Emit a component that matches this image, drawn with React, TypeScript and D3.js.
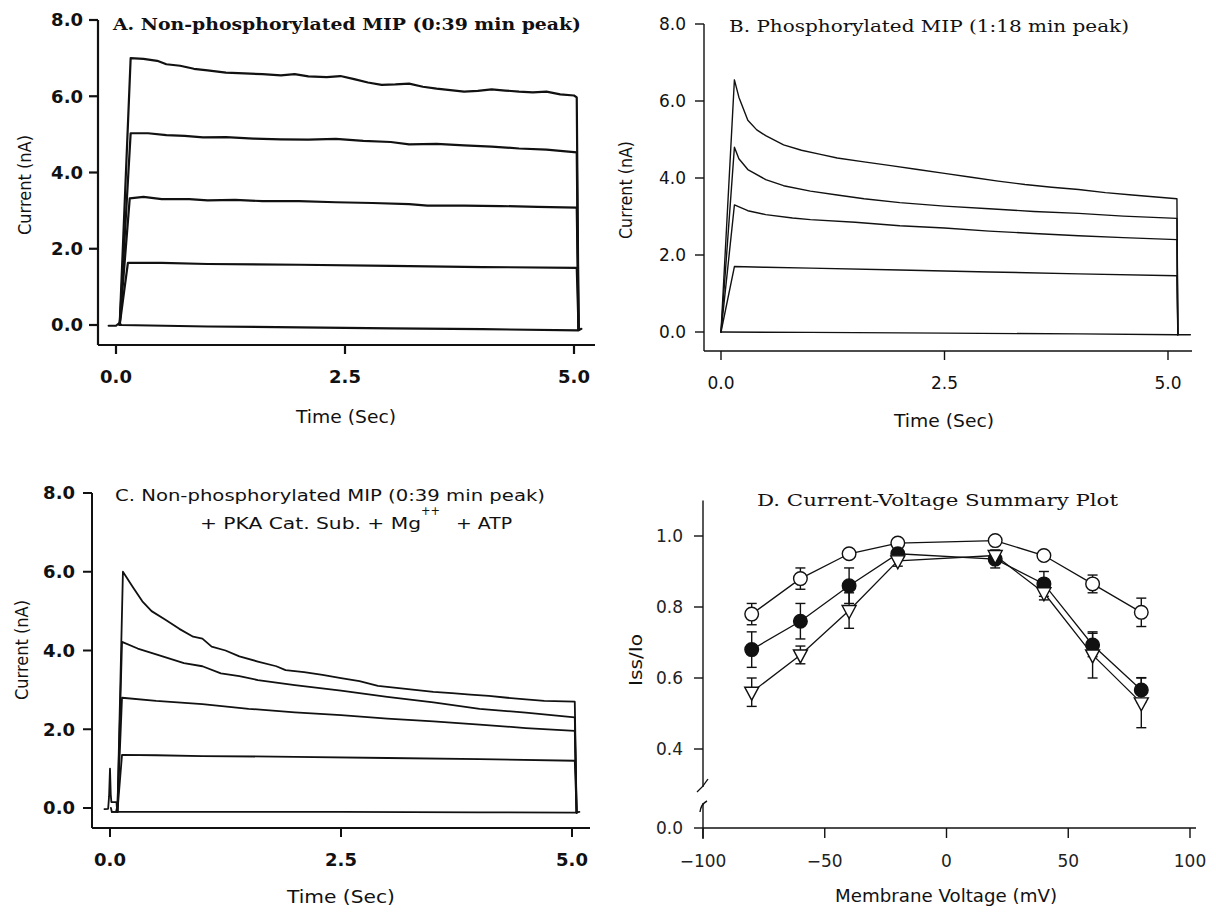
import React from 'react';
import * as d3 from 'd3';

type P = [number, number];

// ---------- Panel A data (Time s, Current nA) ----------
const timeTicks = [0, 2.5, 5.0];
const currentTicks = [0, 2, 4, 6, 8];

const aBaseline: P[] = [[-0.08, -0.02], [0.0, -0.02], [0.03, 0.04], [0.06, 0.0], [1.0, -0.04], [2.0, -0.06], [3.0, -0.09], [4.0, -0.11], [5.05, -0.14], [5.08, -0.1]];
const aTrace1: P[] = [[0.04, 0], [0.13, 1.63], [0.5, 1.63], [1.0, 1.6], [2.0, 1.58], [3.0, 1.55], [4.0, 1.52], [5.03, 1.5], [5.05, -0.12]];
const aTrace2: P[] = [[0.04, 0], [0.15, 3.32], [0.3, 3.36], [0.5, 3.3], [0.8, 3.3], [1.0, 3.27], [1.3, 3.28], [1.6, 3.25], [2.0, 3.25], [2.4, 3.22], [2.8, 3.2], [3.2, 3.17], [3.4, 3.13], [3.8, 3.13], [4.2, 3.12], [4.6, 3.1], [5.03, 3.08], [5.05, -0.12]];
const aTrace3: P[] = [[0.04, 0], [0.16, 5.03], [0.35, 5.03], [0.55, 4.98], [0.75, 4.96], [0.95, 4.92], [1.2, 4.93], [1.5, 4.89], [1.8, 4.87], [2.1, 4.86], [2.4, 4.88], [2.7, 4.83], [3.0, 4.8], [3.2, 4.74], [3.5, 4.75], [3.8, 4.71], [4.1, 4.68], [4.4, 4.63], [4.7, 4.6], [5.03, 4.53], [5.05, -0.12]];
const aTrace4: P[] = [[0.04, 0], [0.16, 7.0], [0.3, 6.98], [0.45, 6.93], [0.55, 6.84], [0.7, 6.8], [0.85, 6.72], [1.0, 6.68], [1.2, 6.62], [1.4, 6.6], [1.6, 6.58], [1.8, 6.55], [1.95, 6.58], [2.1, 6.52], [2.3, 6.5], [2.45, 6.53], [2.6, 6.45], [2.75, 6.36], [2.9, 6.3], [3.05, 6.31], [3.2, 6.33], [3.35, 6.25], [3.5, 6.2], [3.65, 6.16], [3.8, 6.12], [3.95, 6.14], [4.1, 6.18], [4.25, 6.15], [4.4, 6.12], [4.55, 6.1], [4.7, 6.12], [4.85, 6.05], [5.0, 6.02], [5.03, 5.97], [5.05, -0.12]];

// ---------- Panel B data ----------
const bBaseline: P[] = [[0.0, 0.0], [1.0, -0.01], [2.5, -0.03], [4.0, -0.05], [5.1, -0.07], [5.25, -0.07]];
const bTrace1: P[] = [[0.0, 0.0], [0.15, 1.7], [0.5, 1.68], [1.0, 1.66], [2.0, 1.61], [3.0, 1.56], [4.0, 1.51], [5.1, 1.46], [5.11, -0.07]];
const bTrace2: P[] = [[0.0, 0.0], [0.15, 3.3], [0.3, 3.15], [0.5, 3.05], [0.8, 2.96], [1.0, 2.92], [1.5, 2.85], [2.0, 2.76], [2.5, 2.7], [3.0, 2.62], [3.5, 2.56], [4.0, 2.5], [4.5, 2.45], [5.1, 2.4], [5.11, -0.07]];
const bTrace3: P[] = [[0.0, 0.0], [0.15, 4.8], [0.2, 4.5], [0.3, 4.22], [0.5, 3.96], [0.7, 3.8], [1.0, 3.66], [1.3, 3.56], [1.6, 3.46], [2.0, 3.36], [2.5, 3.27], [3.0, 3.2], [3.5, 3.13], [4.0, 3.08], [4.5, 3.01], [5.1, 2.95], [5.11, -0.07]];
const bTrace4: P[] = [[0.0, 0.0], [0.15, 6.55], [0.2, 6.1], [0.3, 5.5], [0.4, 5.25], [0.5, 5.1], [0.7, 4.86], [0.9, 4.72], [1.1, 4.62], [1.3, 4.52], [1.6, 4.42], [1.9, 4.32], [2.2, 4.22], [2.5, 4.12], [2.8, 4.02], [3.1, 3.92], [3.4, 3.83], [3.7, 3.76], [4.0, 3.7], [4.3, 3.62], [4.6, 3.56], [4.9, 3.5], [5.1, 3.46], [5.11, -0.07]];

// ---------- Panel C data ----------
const cPulse: P[] = [[-0.06, -0.03], [-0.02, -0.02], [-0.01, 0.3], [0.0, 1.0], [0.008, 0.35], [0.015, 0.15], [0.07, 0.15], [0.075, 0.0], [0.065, -0.1], [0.02, -0.1], [0.01, 0.0]];
const cBaseline: P[] = [[0.02, -0.1], [1.0, -0.1], [2.5, -0.1], [4.0, -0.11], [5.03, -0.12], [5.08, -0.1]];
const cTrace1: P[] = [[0.08, -0.1], [0.13, 1.35], [0.5, 1.34], [1.0, 1.32], [2.0, 1.3], [3.0, 1.27], [4.0, 1.24], [5.03, 1.2], [5.05, -0.12]];
const cTrace2: P[] = [[0.08, -0.1], [0.13, 2.8], [0.5, 2.72], [1.0, 2.64], [1.5, 2.52], [2.0, 2.43], [2.5, 2.36], [3.0, 2.27], [3.5, 2.2], [4.0, 2.12], [4.5, 2.03], [5.03, 1.96], [5.05, -0.12]];
const cTrace3: P[] = [[0.08, -0.1], [0.13, 4.22], [0.3, 4.05], [0.5, 3.9], [0.8, 3.68], [1.0, 3.6], [1.2, 3.42], [1.4, 3.35], [1.6, 3.25], [2.0, 3.12], [2.5, 2.98], [3.0, 2.82], [3.5, 2.68], [4.0, 2.52], [4.5, 2.42], [5.03, 2.3], [5.05, -0.12]];
const cTrace4: P[] = [[0.08, -0.1], [0.14, 6.0], [0.25, 5.6], [0.35, 5.25], [0.45, 5.0], [0.6, 4.78], [0.75, 4.55], [0.9, 4.35], [1.0, 4.3], [1.1, 4.1], [1.25, 4.0], [1.4, 3.85], [1.6, 3.72], [1.8, 3.6], [1.9, 3.5], [2.1, 3.45], [2.3, 3.38], [2.5, 3.3], [2.7, 3.22], [2.9, 3.1], [3.1, 3.05], [3.3, 3.0], [3.5, 2.95], [3.7, 2.92], [3.9, 2.88], [4.1, 2.85], [4.3, 2.8], [4.5, 2.76], [4.7, 2.72], [5.03, 2.7], [5.05, -0.12]];

// ---------- Panel D data (Membrane Voltage mV, Iss/Io) ----------
const voltages = [-80, -60, -40, -20, 20, 40, 60, 80];
const openMean = [0.78, 0.88, 0.95, 0.98, 0.987, 0.945, 0.865, 0.785];
const openErr = [0.03, 0.03, 0.01, 0.01, 0.01, 0.01, 0.025, 0.04];
const filledMean = [0.68, 0.76, 0.86, 0.95, 0.935, 0.865, 0.693, 0.566];
const filledErr = [0.05, 0.05, 0.05, 0.015, 0.025, 0.035, 0.033, 0.035];
const triMean = [0.56, 0.665, 0.79, 0.93, 0.945, 0.84, 0.665, 0.53];
const triErr = [0.04, 0.025, 0.05, 0.015, 0.015, 0.02, 0.065, 0.07];
const voltTicks = [-100, -50, 0, 50, 100];
const ratioTicks = [0.0, 0.4, 0.6, 0.8, 1.0];

const fmt1 = d3.format('.1f');

function Trace({ pts, x, y, w }: { pts: P[]; x: any; y: any; w: number }) {
  const line = d3.line<P>().x((d) => x(d[0])).y((d) => y(d[1]));
  return <path d={line(pts) || ''} fill="none" stroke="#111" strokeWidth={w} strokeLinejoin="round" strokeLinecap="round" />;
}

type AxCfg = {
  x: any; y: any; axisX: number; axisY: number; yTop: number; xRight: number; sw: number;
  tickLen: number; yLabRight: number; xLabBase: number; tickFont: string; tickWeight: number; tickSize: number;
};

function TimeAxes(c: AxCfg) {
  return (
    <g>
      <line x1={c.axisX} y1={c.yTop} x2={c.axisX} y2={c.axisY} stroke="#111" strokeWidth={c.sw} />
      <line x1={c.axisX} y1={c.axisY} x2={c.xRight} y2={c.axisY} stroke="#111" strokeWidth={c.sw} />
      {currentTicks.map((t) => (
        <g key={'y' + t}>
          <line x1={c.axisX - c.tickLen} x2={c.axisX} y1={c.y(t)} y2={c.y(t)} stroke="#111" strokeWidth={c.sw} />
          <text x={c.yLabRight} y={c.y(t)} dy="0.36em" textAnchor="end" fontFamily={c.tickFont} fontWeight={c.tickWeight} fontSize={c.tickSize} fill="#111">{fmt1(t)}</text>
        </g>
      ))}
      {timeTicks.map((t) => (
        <g key={'x' + t}>
          <line x1={c.x(t)} x2={c.x(t)} y1={c.axisY} y2={c.axisY + c.tickLen} stroke="#111" strokeWidth={c.sw} />
          <text x={c.x(t)} y={c.xLabBase} textAnchor="middle" fontFamily={c.tickFont} fontWeight={c.tickWeight} fontSize={c.tickSize} fill="#111">{fmt1(t)}</text>
        </g>
      ))}
    </g>
  );
}

function YLabel({ x, y, text, size, len }: { x: number; y: number; text: string; size: number; len: number }) {
  return (
    <text transform={`translate(${x},${y}) rotate(-90)`} textAnchor="middle" fontFamily="DejaVu Sans" fontSize={size} textLength={len} lengthAdjust="spacingAndGlyphs" fill="#111">{text}</text>
  );
}

export default function App() {
  // Panel A
  const ax = d3.scaleLinear().domain([0, 5]).range([116, 574]);
  const ay = d3.scaleLinear().domain([0, 8]).range([325, 20]);
  // Panel B
  const bx = d3.scaleLinear().domain([0, 5]).range([721, 1168]);
  const by = d3.scaleLinear().domain([0, 8]).range([332, 24]);
  // Panel C
  const cx = d3.scaleLinear().domain([0, 5]).range([110, 572]);
  const cy = d3.scaleLinear().domain([0, 8]).range([808, 493]);
  // Panel D (broken y-axis)
  const dx = d3.scaleLinear().domain([-100, 100]).range([703, 1190]);
  const dy = d3.scaleLinear().domain([0, 0.3, 1.1]).range([828, 784.5, 500.5]);

  const series = [
    { mean: openMean, err: openErr, kind: 'open' },
    { mean: filledMean, err: filledErr, kind: 'filled' },
    { mean: triMean, err: triErr, kind: 'tri' },
  ];
  const dLine = d3.line<[number, number]>().x((d) => dx(d[0])).y((d) => dy(d[1]));

  return (
    <svg width={1216} height={913} style={{ position: 'absolute', left: 0, top: 0, background: '#fff' }}>
      <rect x={0} y={0} width={1216} height={913} fill="#fff" />

      {/* ---------- Panel A ---------- */}
      <TimeAxes x={ax} y={ay} axisX={98} axisY={345} yTop={20} xRight={595} sw={2.2} tickLen={9} yLabRight={83} xLabBase={383} tickFont="DejaVu Sans" tickWeight={700} tickSize={18} />
      {[aBaseline, aTrace1, aTrace2, aTrace3, aTrace4].map((p, i) => <Trace key={i} pts={p} x={ax} y={ay} w={2.2} />)}
      <text x={113} y={30} fontFamily="DejaVu Serif" fontWeight={700} fontSize={17} textLength={468} lengthAdjust="spacingAndGlyphs" fill="#111">A. Non-phosphorylated MIP (0:39 min peak)</text>
      <YLabel x={31} y={185} text="Current (nA)" size={17} len={100} />
      <text x={346} y={423} textAnchor="middle" fontFamily="DejaVu Sans" fontSize={17} textLength={100} lengthAdjust="spacingAndGlyphs" fill="#111">Time (Sec)</text>

      {/* ---------- Panel B ---------- */}
      <TimeAxes x={bx} y={by} axisX={704} axisY={351} yTop={24} xRight={1192} sw={1.4} tickLen={9} yLabRight={686} xLabBase={389} tickFont="DejaVu Sans" tickWeight={400} tickSize={17} />
      {[bBaseline, bTrace1, bTrace2, bTrace3, bTrace4].map((p, i) => <Trace key={i} pts={p} x={bx} y={by} w={1.4} />)}
      <text x={729} y={32} fontFamily="DejaVu Serif" fontSize={17} textLength={400} lengthAdjust="spacingAndGlyphs" fill="#111">B. Phosphorylated MIP (1:18 min peak)</text>
      <YLabel x={632} y={190} text="Current (nA)" size={17} len={98} />
      <text x={944} y={427} textAnchor="middle" fontFamily="DejaVu Sans" fontSize={17} textLength={100} lengthAdjust="spacingAndGlyphs" fill="#111">Time (Sec)</text>

      {/* ---------- Panel C ---------- */}
      <TimeAxes x={cx} y={cy} axisX={92} axisY={828} yTop={493} xRight={590} sw={2.0} tickLen={9} yLabRight={75} xLabBase={866} tickFont="DejaVu Sans" tickWeight={700} tickSize={18} />
      <Trace pts={cPulse} x={cx} y={cy} w={1.8} />
      {[cBaseline, cTrace1, cTrace2, cTrace3, cTrace4].map((p, i) => <Trace key={i} pts={p} x={cx} y={cy} w={1.8} />)}
      <text x={115} y={501} fontFamily="DejaVu Sans" fontSize={16} textLength={430} lengthAdjust="spacingAndGlyphs" fill="#111">C. Non-phosphorylated MIP (0:39 min peak)</text>
      <text x={200} y={529} fontFamily="DejaVu Sans" fontSize={16} textLength={221} lengthAdjust="spacingAndGlyphs" fill="#111">+ PKA Cat. Sub. + Mg</text>
      <text x={421} y={515} fontFamily="DejaVu Sans" fontSize={13} textLength={19} lengthAdjust="spacingAndGlyphs" fill="#111">++</text>
      <text x={456} y={529} fontFamily="DejaVu Sans" fontSize={16} textLength={56} lengthAdjust="spacingAndGlyphs" fill="#111">+ ATP</text>
      <YLabel x={28} y={650} text="Current (nA)" size={17} len={100} />
      <text x={341} y={903} textAnchor="middle" fontFamily="DejaVu Sans" fontSize={18} fontWeight={500} textLength={108} lengthAdjust="spacingAndGlyphs" fill="#111">Time (Sec)</text>

      {/* ---------- Panel D ---------- */}
      <g>
        <line x1={703} y1={dy(1.1)} x2={703} y2={787} stroke="#111" strokeWidth={1.4} />
        <path d="M697,792 Q703,787 708,779" fill="none" stroke="#111" strokeWidth={1.4} />
        <path d="M700,812 Q701,804 707,801" fill="none" stroke="#111" strokeWidth={1.4} />
        <line x1={703} y1={803} x2={703} y2={839} stroke="#111" strokeWidth={1.4} />
        <line x1={703} y1={dy(0)} x2={1196} y2={dy(0)} stroke="#111" strokeWidth={1.4} />
        {ratioTicks.map((t) => (
          <g key={'dy' + t}>
            <line x1={694} x2={703} y1={dy(t)} y2={dy(t)} stroke="#111" strokeWidth={1.4} />
            <text x={683} y={dy(t)} dy="0.36em" textAnchor="end" fontFamily="DejaVu Sans" fontSize={17} fill="#222">{fmt1(t)}</text>
          </g>
        ))}
        {voltTicks.map((t) => (
          <g key={'dx' + t}>
            <line x1={dx(t)} x2={dx(t)} y1={dy(0)} y2={dy(0) + 10} stroke="#111" strokeWidth={1.4} />
            <text x={dx(t)} y={867} textAnchor="middle" fontFamily="DejaVu Sans" fontSize={17} fill="#222">{t < 0 ? '\u2212' + Math.abs(t) : String(t)}</text>
          </g>
        ))}
        {series.map((s, i) => (
          <path key={'l' + i} d={dLine(voltages.map((v, j) => [v, s.mean[j]] as [number, number])) || ''} fill="none" stroke="#111" strokeWidth={1.3} />
        ))}
        {series.map((s, i) => (
          <g key={'e' + i}>
            {voltages.map((v, j) => {
              const x = dx(v); const y1 = dy(s.mean[j] - s.err[j]); const y2 = dy(s.mean[j] + s.err[j]);
              return (
                <g key={j}>
                  <line x1={x} x2={x} y1={y1} y2={y2} stroke="#111" strokeWidth={1.4} />
                  <line x1={x - 5} x2={x + 5} y1={y1} y2={y1} stroke="#111" strokeWidth={1.4} />
                  <line x1={x - 5} x2={x + 5} y1={y2} y2={y2} stroke="#111" strokeWidth={1.4} />
                </g>
              );
            })}
          </g>
        ))}
        {series.map((s, i) => (
          <g key={'m' + i}>
            {voltages.map((v, j) => {
              const x = dx(v); const y = dy(s.mean[j]);
              if (s.kind === 'tri') {
                return <path key={j} d={`M${x - 7},${y - 5} L${x + 7},${y - 5} L${x},${y + 8} Z`} fill="#fff" stroke="#111" strokeWidth={1.4} />;
              }
              return <circle key={j} cx={x} cy={y} r={6.8} fill={s.kind === 'filled' ? '#111' : '#fff'} stroke="#111" strokeWidth={1.4} />;
            })}
          </g>
        ))}
        <text x={757} y={506} fontFamily="DejaVu Serif" fontSize={17} textLength={361} lengthAdjust="spacingAndGlyphs" fill="#111">D.  Current-Voltage Summary Plot</text>
        <YLabel x={642} y={660} text="Iss/Io" size={17} len={52} />
        <text x={946} y={902} textAnchor="middle" fontFamily="DejaVu Sans" fontSize={17} textLength={222} lengthAdjust="spacingAndGlyphs" fill="#111">Membrane Voltage (mV)</text>
      </g>
    </svg>
  );
}
